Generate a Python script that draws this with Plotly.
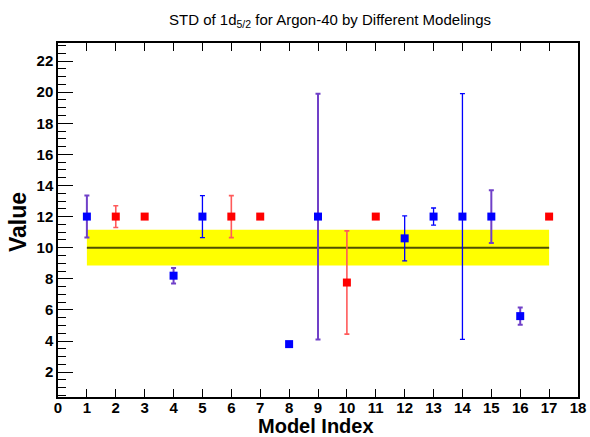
import plotly.graph_objects as go

# ---- data ----
model_index = [1, 2, 3, 4, 5, 6, 7, 8, 9, 10, 11, 12, 13, 14, 15, 16, 17]
values = [12.0, 12.0, 12.0, 8.2, 12.0, 12.0, 12.0, 3.8, 12.0, 7.76, 12.0, 10.6, 12.0, 12.0, 12.0, 5.6, 12.0]
errors = [1.35, 0.7, 0.0, 0.5, 1.35, 1.35, 0.0, 0.0, 7.9, 3.32, 0.0, 1.45, 0.55, 7.9, 1.7, 0.55, 0.0]
group = ["B", "R", "R", "B", "B", "R", "R", "B", "B", "R", "R", "B", "B", "B", "B", "B", "R"]
err_kind = ["P", "R", "R", "P", "B", "R", "R", "P", "P", "R", "R", "B", "B", "B", "P", "P", "R"]

band_x = [1, 17]
band_center = 10.0
band_low = 8.85
band_high = 11.15

title_text = "STD of 1d<sub>5/2</sub> for Argon-40 by Different Modelings"
x_title = "Model Index"
y_title = "Value"
x_ticks = list(range(0, 19))
y_ticks = list(range(2, 23, 2))

# ---- styles ----
marker_color = {"B": "#0000ff", "R": "#ff0000"}
err_color = {"P": "#7040c8", "B": "#0000ff", "R": "#ff5a5a"}
err_thick = {"P": 2, "B": 1.3, "R": 1.6}
FONT = "Liberation Sans, Arial, Helvetica, sans-serif"

L, R, T, B = 58, 12, 43, 40
W, H = 590, 437
PW, PH = W - L - R, H - T - B

fig = go.Figure()

# yellow band
fig.add_trace(go.Scatter(x=band_x, y=[band_low, band_low], mode="lines",
                         line=dict(width=0, color="yellow"), showlegend=False, hoverinfo="skip"))
fig.add_trace(go.Scatter(x=band_x, y=[band_high, band_high], mode="lines",
                         line=dict(width=0, color="yellow"), fill="tonexty",
                         fillcolor="#ffff00", showlegend=False, hoverinfo="skip"))
fig.add_trace(go.Scatter(x=band_x, y=[band_center, band_center], mode="lines",
                         line=dict(width=2, color="#505000"), showlegend=False, hoverinfo="skip"))

# error bars, one trace per point
for xi, yi, ei, ek in zip(model_index, values, errors, err_kind):
    if ei <= 0:
        continue
    fig.add_trace(go.Scatter(
        x=[xi], y=[yi], mode="markers",
        marker=dict(size=1, color="rgba(0,0,0,0)"),
        error_y=dict(type="data", array=[ei], visible=True,
                     color=err_color[ek], thickness=err_thick[ek], width=2.5),
        showlegend=False, hoverinfo="skip"))

# markers
for g in ["R", "B"]:
    xs = [x for x, gg in zip(model_index, group) if gg == g]
    ys = [y for y, gg in zip(values, group) if gg == g]
    fig.add_trace(go.Scatter(x=xs, y=ys, mode="markers",
                             marker=dict(symbol="square", size=8, color=marker_color[g],
                                         line=dict(width=0)),
                             showlegend=False))

fig.update_layout(
    template="none",
    width=W, height=H,
    margin=dict(l=L, r=R, t=T, b=B, pad=0, autoexpand=False),
    paper_bgcolor="white", plot_bgcolor="white",
    font=dict(family=FONT, color="black"),
    title=dict(text=title_text, x=330 / W, xanchor="center",
               y=1 - 20 / H, yanchor="middle", yref="container",
               font=dict(size=15, family=FONT, color="black")),
    showlegend=False,
)

fig.update_xaxes(range=[0, 18], tickvals=x_ticks, ticktext=[str(t) for t in x_ticks],
                 automargin=False,
                 ticks="inside", ticklen=8, tickwidth=1, tickcolor="black",
                 showline=True, linecolor="black", linewidth=1.5, mirror="ticks",
                 showgrid=False, zeroline=False, ticklabelstandoff=-4,
                 tickfont=dict(size=15, family=FONT, color="black", weight="bold"))
fig.update_yaxes(range=[0.4, 23.16], tickvals=y_ticks, ticktext=[str(t) for t in y_ticks],
                 automargin=False,
                 ticks="inside", ticklen=15, tickwidth=1, tickcolor="black",
                 minor=dict(dtick=0.5, ticks="inside", ticklen=8, tickcolor="black", tickwidth=1),
                 showline=True, linecolor="black", linewidth=1.5, mirror=True,
                 showgrid=False, zeroline=False,
                 tickfont=dict(size=15, family=FONT, color="black", weight="bold"))

fig.add_annotation(text=x_title, xref="paper", yref="paper",
                   x=(316 - L) / PW, y=-(426 - (H - B)) / PH,
                   xanchor="center", yanchor="middle", showarrow=False,
                   font=dict(size=20, family=FONT, color="black", weight="bold"))
fig.add_annotation(text=y_title, xref="paper", yref="paper",
                   x=-(L - 18) / PW, y=1 - (222 - T) / PH,
                   xanchor="center", yanchor="middle", showarrow=False, textangle=-90,
                   font=dict(size=23, family=FONT, color="black", weight="bold"))

fig.write_html("out.html")
